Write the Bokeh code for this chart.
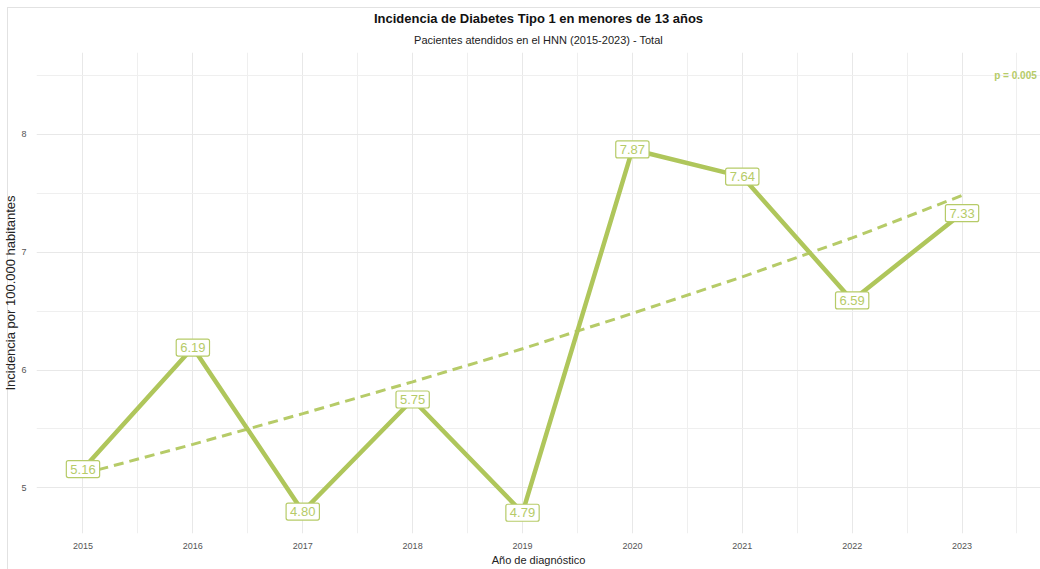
from bokeh.plotting import figure
from bokeh.models import ColumnDataSource, FixedTicker, Title, Label, Range1d
from bokeh.core.properties import value
from bokeh.embed import file_html
from bokeh.resources import INLINE

# Incidence of type 1 diabetes in children under 13, HNN 2015-2023
years = [2015, 2016, 2017, 2018, 2019, 2020, 2021, 2022, 2023]
incidence = [5.16, 6.19, 4.80, 5.75, 4.79, 7.87, 7.64, 6.59, 7.33]
# fitted trend (log-linear model) evaluated at each year
trend = [5.12, 5.37, 5.63, 5.90, 6.18, 6.48, 6.79, 7.12, 7.48]
y_ticks = [5, 6, 7, 8]
p_value_text = "p = 0.005"

FONT = "Liberation Sans"
GREEN = "#AFC65B"
LABEL_GREEN = "#B6CB68"

src = ColumnDataSource(dict(
    year=years,
    inc=incidence,
    trend=trend,
    label=[f"{v:.2f}" for v in incidence],
))

p = figure(
    width=1040, height=569,
    output_backend="svg", toolbar_location=None,
    x_range=Range1d(2014.577, 2023.714),
    y_range=Range1d(4.614, 8.692),
    min_border_left=35, min_border_right=0,
    min_border_top=52, min_border_bottom=36,
)
p.background_fill_color = None
p.border_fill_color = None
p.outline_line_color = None
# thin frame around the page on the top and left sides
p.styles = {"box-shadow": "inset 7px 7px 0 0 #ffffff, inset 8px 8px 0 0 #e2e2e2"}

# grid
p.xaxis.ticker = FixedTicker(ticks=years, minor_ticks=[y + 0.5 for y in years])
p.yaxis.ticker = FixedTicker(ticks=y_ticks, minor_ticks=[t + 0.5 for t in y_ticks])
for g in (p.xgrid, p.ygrid):
    g.grid_line_color = "#e8e8e8"
    g.grid_line_width = 1
    g.minor_grid_line_color = "#efefef"
    g.minor_grid_line_width = 1

# axes
for ax in (p.xaxis, p.yaxis):
    ax.axis_line_color = None
    ax.major_tick_line_color = None
    ax.minor_tick_line_color = None
    ax.major_label_text_font = FONT
    ax.major_label_text_font_size = "9px"
    ax.major_label_text_color = "#555555"
    ax.axis_label_text_font = FONT
    ax.axis_label_text_font_style = "normal"
    ax.axis_label_text_color = "#222222"

p.xaxis.axis_label = "Año de diagnóstico"
p.xaxis.axis_label_text_font_size = "11px"
p.xaxis.major_label_standoff = 3
p.xaxis.axis_label_standoff = 2

p.yaxis.axis_label = "Incidencia por 100.000 habitantes"
p.yaxis.axis_label_text_font_size = "13px"
p.yaxis.major_label_standoff = 4
p.yaxis.axis_label_standoff = 0

# titles
p.add_layout(Title(text="Pacientes atendidos en el HNN (2015-2023) - Total",
                   align="center", text_font=FONT, text_font_size="11px",
                   text_font_style="normal", text_color="#222222",
                   standoff=13), "above")
p.add_layout(Title(text="Incidencia de Diabetes Tipo 1 en menores de 13 años",
                   align="center", text_font=FONT, text_font_size="13px",
                   text_font_style="bold", text_color="#111111",
                   standoff=0), "above")

# trend and series
p.line("year", "trend", source=src, line_color=LABEL_GREEN, line_width=3,
       line_dash="10 6")
p.line("year", "inc", source=src, line_color=GREEN, line_width=4.5)

# value labels
p.text("year", "inc", text="label", source=src,
       text_font=value(FONT), text_font_size="13px", text_color=LABEL_GREEN,
       text_align="center", text_baseline="middle",
       background_fill_color="white", border_line_color=LABEL_GREEN,
       border_line_width=1.2, padding=4, border_radius=2)

# significance of the trend
p.add_layout(Label(x=2023.68, y=8.5, text=p_value_text,
                   text_font=FONT, text_font_size="10px", text_font_style="bold",
                   text_color=LABEL_GREEN, text_align="right",
                   text_baseline="middle"))

open("out.html", "w").write(file_html(p, INLINE))
